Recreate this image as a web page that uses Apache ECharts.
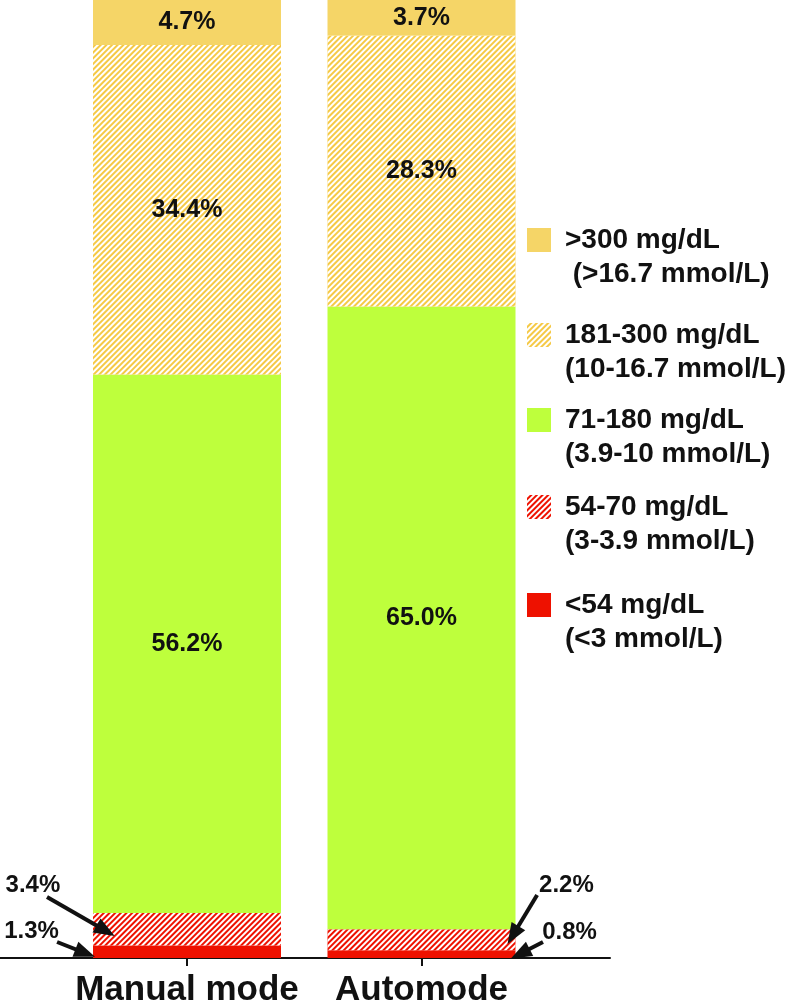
<!DOCTYPE html>
<html><head><meta charset="utf-8">
<script src="https://cdn.jsdelivr.net/npm/echarts@6/dist/echarts.min.js"></script>
<style>html,body{margin:0;padding:0;background:#fff}#c{width:785px;height:1002px}</style>
</head><body><div id="c"></div>
<script>
// ---- data ----
const categories = ['Manual mode', 'Automode'];
const rangeNames = ['<54 mg/dL\n(<3 mmol/L)', '54-70 mg/dL\n(3-3.9 mmol/L)', '71-180 mg/dL\n(3.9-10 mmol/L)', '181-300 mg/dL\n(10-16.7 mmol/L)', '>300 mg/dL\n (>16.7 mmol/L)'];
const below54 = [1.3, 0.8];
const from54to70 = [3.4, 2.2];
const from71to180 = [56.2, 65.0];
const from181to300 = [34.4, 28.3];
const above300 = [4.7, 3.7];

// ---- layout / style ----
const legendTops = [554, 456, 369, 284, 189];
const colors = { red: '#EE1100', green: '#BEFF3C', yellow: '#F5D567', yellowHatch: '#F5C945' };
const hatch = { symbol: 'rect', symbolSize: 1, dashArrayX: [1, 0], dashArrayY: [1.5, 1.5], rotation: -Math.PI / 4, color: '#ffffff' };
// annotation offsets in axis units, relative to category index
const annotations = [
  { values: from54to70, cat: 0, text: [-0.657, 7.62], from: [-0.597, 6.37], to: [-0.347, 2.84] },
  { values: below54,    cat: 0, text: [-0.663, 2.75], from: [-0.554, 1.67], to: [-0.434, 0.52] },
  { values: from54to70, cat: 1, text: [0.618, 7.62],  from: [0.493, 6.58],  to: [0.390, 2.40] },
  { values: below54,    cat: 1, text: [0.631, 2.71],  from: [0.518, 1.67],  to: [0.421, 0.45] }
];
const font = 'Liberation Sans, Arial, sans-serif';

function bar(name, values, color, decal, showLabel) {
  return {
    type: 'bar', name: name, stack: 'total', barWidth: 188,
    xAxisIndex: 0, yAxisIndex: 0,
    data: values,
    itemStyle: { color: color, decal: decal || null },
    label: {
      show: showLabel, position: 'inside', fontSize: 25, fontWeight: 'bold', color: '#111', fontFamily: font,
      formatter: p => p.value.toFixed(1) + '%'
    },
    emphasis: { disabled: true }, silent: true
  };
}

const series = [
  bar(rangeNames[0], below54, colors.red, null, false),
  bar(rangeNames[1], from54to70, colors.red, hatch, false),
  bar(rangeNames[2], from71to180, colors.green, null, true),
  bar(rangeNames[3], from181to300, colors.yellowHatch, hatch, true),
  bar(rangeNames[4], above300, colors.yellow, null, true),
  {
    type: 'scatter', name: 'annotations', xAxisIndex: 1, yAxisIndex: 1, data: [], silent: true,
    markLine: {
      silent: true, symbol: ['none', 'triangle'], symbolSize: [16, 21],
      label: { show: false },
      lineStyle: { color: '#111', width: 4, type: 'solid' },
      emphasis: { disabled: true },
      data: annotations.map(a => [
        { coord: [a.cat + a.from[0], a.from[1]] },
        { coord: [a.cat + a.to[0], a.to[1]] }
      ])
    },
    markPoint: {
      silent: true, symbol: 'rect', symbolSize: 1,
      itemStyle: { color: 'rgba(0,0,0,0)' },
      label: { show: true, position: 'inside', fontSize: 24, fontWeight: 'bold', color: '#111', fontFamily: font, formatter: p => p.name },
      data: annotations.map(a => ({ name: a.values[a.cat].toFixed(1) + '%', coord: [a.cat + a.text[0], a.text[1]] }))
    }
  }
];

const chart = echarts.init(document.getElementById('c'), null, { renderer: 'canvas' });
chart.setOption({
  animation: false,
  backgroundColor: '#ffffff',
  textStyle: { fontFamily: font },
  grid: [
    { left: 69.75, top: 0, width: 469, height: 958, containLabel: false, outerBoundsMode: 'none' },
    { left: 0, top: 0, width: 610, height: 958, containLabel: false, outerBoundsMode: 'none' }
  ],
  xAxis: [
    { type: 'category', gridIndex: 0, data: categories, show: false },
    {
      type: 'value', gridIndex: 1, min: -0.7974, max: 1.8038,
      axisLine: { show: true, lineStyle: { color: '#111', width: 2 } },
      axisTick: { show: true, customValues: [0, 1], length: 8, lineStyle: { color: '#111', width: 2 } },
      axisLabel: { customValues: [0, 1], formatter: v => categories[Math.round(v)], fontSize: 35, fontWeight: 'bold', color: '#111', margin: 15, fontFamily: font },
      splitLine: { show: false }
    }
  ],
  yAxis: [
    { type: 'value', gridIndex: 0, min: 0, max: 100, show: false },
    { type: 'value', gridIndex: 1, min: 0, max: 100, show: false }
  ],
  legend: rangeNames.map((n, i) => ({
    data: [n], orient: 'vertical', left: 527, top: legendTops[i], padding: 0,
    itemWidth: 24, itemHeight: 24, icon: 'rect', selectedMode: false,
    formatter: name => '\n' + name,
    textStyle: { fontSize: 28, fontWeight: 'bold', color: '#111', lineHeight: 34, padding: [0, 0, 0, 9], fontFamily: font }
  })),
  series: series
});
</script></body></html>
